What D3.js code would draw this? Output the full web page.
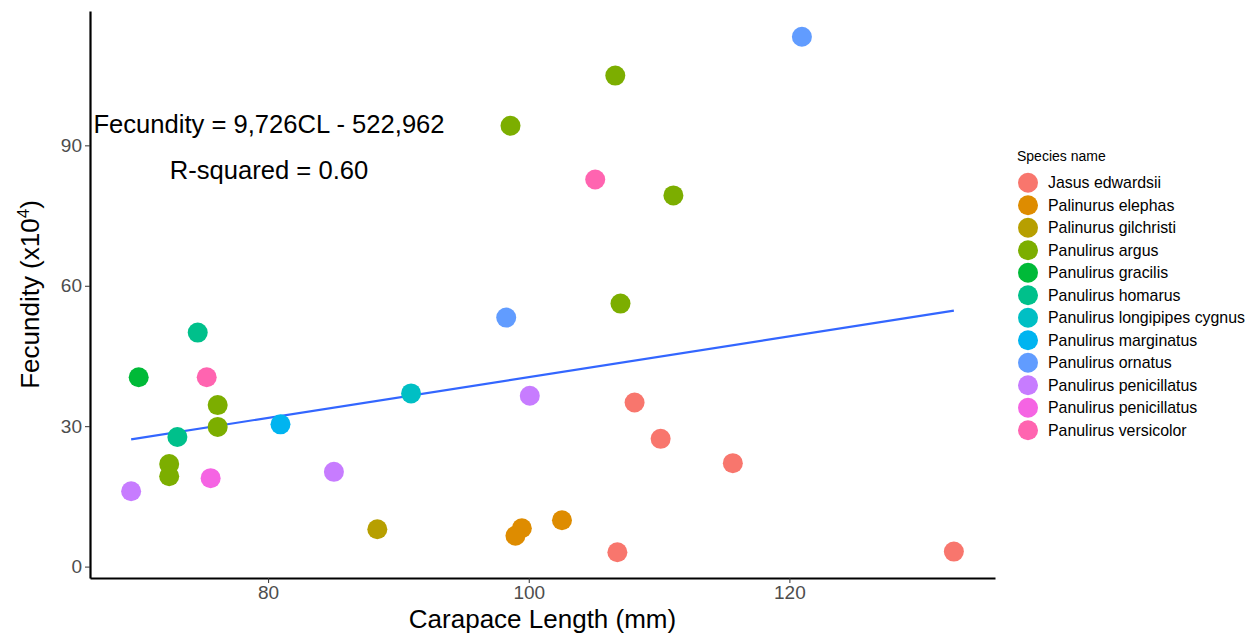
<!DOCTYPE html>
<html>
<head>
<meta charset="utf-8">
<script src="https://cdn.jsdelivr.net/npm/d3@7"></script>
<style>
  body { margin: 0; background: #fff; }
  svg text { font-family: "Liberation Sans", Arial, sans-serif; }
</style>
</head>
<body>
<svg id="chart" width="1254" height="635"></svg>
<script>
// data (fecundity in units of 10^4 eggs)
const species = [
  "Jasus edwardsii", "Palinurus elephas", "Palinurus gilchristi", "Panulirus argus",
  "Panulirus gracilis", "Panulirus homarus", "Panulirus longipipes cygnus",
  "Panulirus marginatus", "Panulirus ornatus", "Panulirus penicillatus",
  "Panulirus penicillatus ", "Panulirus versicolor"
];
const speciesColors = [
  "#F8766D", "#DE8C00", "#B79F00", "#7CAE00", "#00BA38", "#00C08B",
  "#00BFC4", "#00B4F0", "#619CFF", "#C77CFF", "#F564E3", "#FF64B0"
];

const pointSpecies = [
  8, 3, 3, 11, 3, 3, 8, 5, 4, 11,
  6, 9, 0, 3, 7, 3, 5, 0, 3, 0,
  9, 3, 10, 9, 2, 1, 1, 1, 0, 0
];
const carapaceLength = [
  120.96, 106.64, 98.6, 105.1, 111.1, 107.04, 98.27, 74.6, 70.07, 75.29,
  90.97, 100.08, 108.12, 76.13, 80.95, 76.13, 73.04, 110.12, 72.41, 115.66,
  85.05, 72.41, 75.59, 69.49, 88.38, 102.55, 99.47, 98.98, 106.8, 132.62
];
const fecundity = [
  113.2, 104.9, 94.2, 82.7, 79.3, 56.2, 53.2, 50.0, 40.45, 40.45,
  37.0, 36.5, 35.05, 34.5, 30.4, 29.85, 27.7, 27.3, 21.9, 22.1,
  20.25, 19.3, 18.9, 16.1, 7.97, 9.9, 8.2, 6.6, 3.07, 3.2
];

// fitted line end points
const trendX = [69.49, 132.62];
const trendY = [27.2, 54.7];

const xTicks = [80, 100, 120];
const yTicks = [0, 30, 60, 90];

const equationText = "Fecundity = 9,726CL - 522,962";
const rSquaredText = "R-squared = 0.60";

const svg = d3.select("#chart");
const margin = {left: 90, right: 259, top: 11, bottom: 57};
const W = 1254, H = 635;

const pad = (lo, hi) => [lo - (hi - lo) * 0.05, hi + (hi - lo) * 0.05];
const x = d3.scaleLinear()
  .domain(pad(d3.min(carapaceLength), d3.max(carapaceLength)))
  .range([margin.left, W - margin.right]);
const y = d3.scaleLinear()
  .domain(pad(d3.min(fecundity), d3.max(fecundity)))
  .range([H - margin.bottom, margin.top]);

// axes
const xAxis = svg.append("g")
  .attr("transform", `translate(0,${H - margin.bottom})`)
  .call(d3.axisBottom(x).tickValues(xTicks).tickSize(5).tickSizeOuter(0).tickPadding(3));
const yAxis = svg.append("g")
  .attr("transform", `translate(${margin.left},0)`)
  .call(d3.axisLeft(y).tickValues(yTicks).tickSize(5).tickSizeOuter(0).tickPadding(3));

for (const ax of [xAxis, yAxis]) {
  ax.select(".domain").attr("stroke", "#000").attr("stroke-width", 2.2);
  ax.selectAll(".tick line").attr("stroke", "#333").attr("stroke-width", 1);
  ax.selectAll(".tick text")
    .attr("fill", "#4D4D4D")
    .style("font-size", "19px");
}

// regression line
svg.append("path")
  .datum(trendX.map((d, i) => [d, trendY[i]]))
  .attr("fill", "none")
  .attr("stroke", "#3366FF")
  .attr("stroke-width", 2.2)
  .attr("d", d3.line().x(d => x(d[0])).y(d => y(d[1])));

// points
svg.append("g")
  .selectAll("circle")
  .data(carapaceLength)
  .join("circle")
  .attr("cx", d => x(d))
  .attr("cy", (d, i) => y(fecundity[i]))
  .attr("r", 10)
  .attr("fill", (d, i) => speciesColors[pointSpecies[i]]);

// annotations
svg.append("text")
  .attr("x", 269).attr("y", 133)
  .attr("text-anchor", "middle")
  .style("font-size", "25.6px")
  .text(equationText);
svg.append("text")
  .attr("x", 269).attr("y", 179)
  .attr("text-anchor", "middle")
  .style("font-size", "25.6px")
  .text(rSquaredText);

// axis titles
svg.append("text")
  .attr("x", (margin.left + W - margin.right) / 2)
  .attr("y", 628)
  .attr("text-anchor", "middle")
  .style("font-size", "26px")
  .text("Carapace Length (mm)");

const yTitle = svg.append("text")
  .attr("transform", `translate(39,${(margin.top + H - margin.bottom) / 2}) rotate(-90)`)
  .attr("text-anchor", "middle")
  .style("font-size", "26px");
yTitle.append("tspan").text("Fecundity (x10");
yTitle.append("tspan").attr("dy", -10).style("font-size", "17px").text("4");
yTitle.append("tspan").attr("dy", 10).text(")");

// legend
const legend = svg.append("g").attr("transform", "translate(1017,0)");
legend.append("text")
  .attr("x", 0).attr("y", 161)
  .style("font-size", "14px")
  .text("Species name");
const items = legend.selectAll("g.item")
  .data(species)
  .join("g")
  .attr("class", "item")
  .attr("transform", (d, i) => `translate(0,${182.7 + i * 22.5})`);
items.append("circle")
  .attr("cx", 11).attr("cy", 0).attr("r", 10)
  .attr("fill", (d, i) => speciesColors[i]);
items.append("text")
  .attr("x", 31).attr("y", 5.5)
  .style("font-size", "15.9px")
  .text(d => d.trim());
</script>
</body>
</html>
